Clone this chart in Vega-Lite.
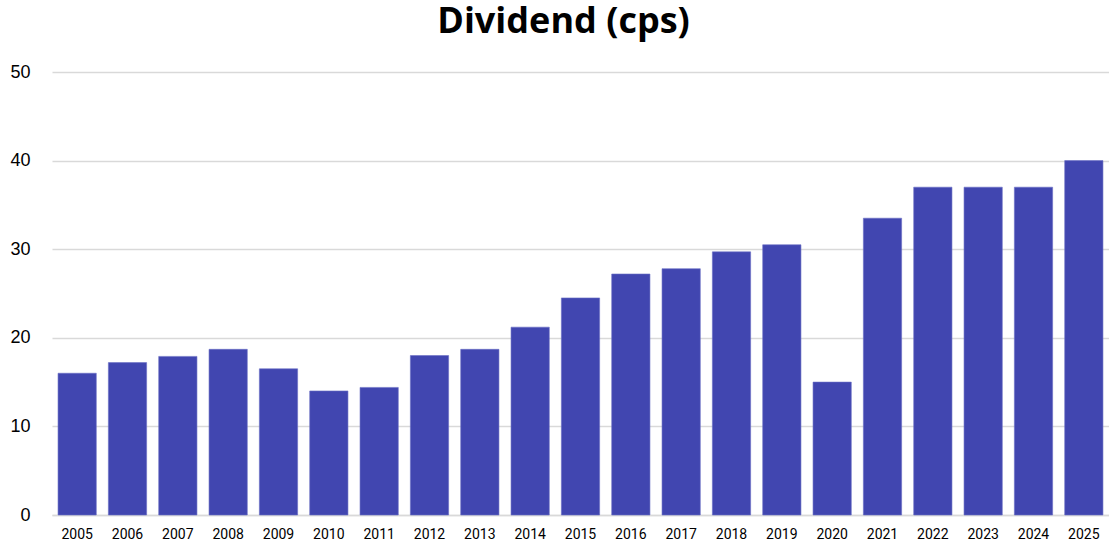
{
  "$schema": "https://vega.github.io/schema/vega-lite/v6.json",
  "width": 1057,
  "height": 443,
  "autosize": {"type": "none"},
  "padding": {"left": 52, "top": 72, "right": 0, "bottom": 29},
  "background": "white",
  "title": {"text": "Dividend (cps)", "font": "Open Sans", "fontSize": 36, "fontWeight": "bold", "color": "#000000", "anchor": "middle", "frame": "group", "offset": 22, "dx": -17},
  "data": {"values": [
    {"year": "2005", "dps": 16.0},
    {"year": "2006", "dps": 17.2},
    {"year": "2007", "dps": 17.9},
    {"year": "2008", "dps": 18.7},
    {"year": "2009", "dps": 16.5},
    {"year": "2010", "dps": 14.0},
    {"year": "2011", "dps": 14.4},
    {"year": "2012", "dps": 18.0},
    {"year": "2013", "dps": 18.7},
    {"year": "2014", "dps": 21.2},
    {"year": "2015", "dps": 24.5},
    {"year": "2016", "dps": 27.2},
    {"year": "2017", "dps": 27.8},
    {"year": "2018", "dps": 29.7},
    {"year": "2019", "dps": 30.5},
    {"year": "2020", "dps": 15.0},
    {"year": "2021", "dps": 33.5},
    {"year": "2022", "dps": 37.0},
    {"year": "2023", "dps": 37.0},
    {"year": "2024", "dps": 37.0},
    {"year": "2025", "dps": 40.0}
  ]},
  "mark": {"type": "bar", "color": "#4146b0", "stroke": "#6a6fc4", "strokeWidth": 0.6},
  "encoding": {
    "x": {"field": "year", "type": "ordinal", "scale": {"paddingInner": 0.24, "paddingOuter": 0.12},
      "axis": {"title": null, "labelAngle": 0, "labelFont": "Roboto", "labelFontSize": 14, "labelColor": "#000000", "labelPadding": 12, "ticks": false, "domain": true, "domainColor": "#d9d9d9", "domainWidth": 1.5, "grid": false}},
    "y": {"field": "dps", "type": "quantitative", "scale": {"domain": [0, 50]},
      "axis": {"title": null, "values": [0, 10, 20, 30, 40, 50], "labelFont": "Liberation Sans", "labelFontSize": 18, "labelColor": "#000000", "labelPadding": 22, "ticks": false, "domain": false, "grid": true, "gridColor": "#d9d9d9", "gridWidth": 1.5}}
  },
  "config": {"view": {"stroke": null}}
}
